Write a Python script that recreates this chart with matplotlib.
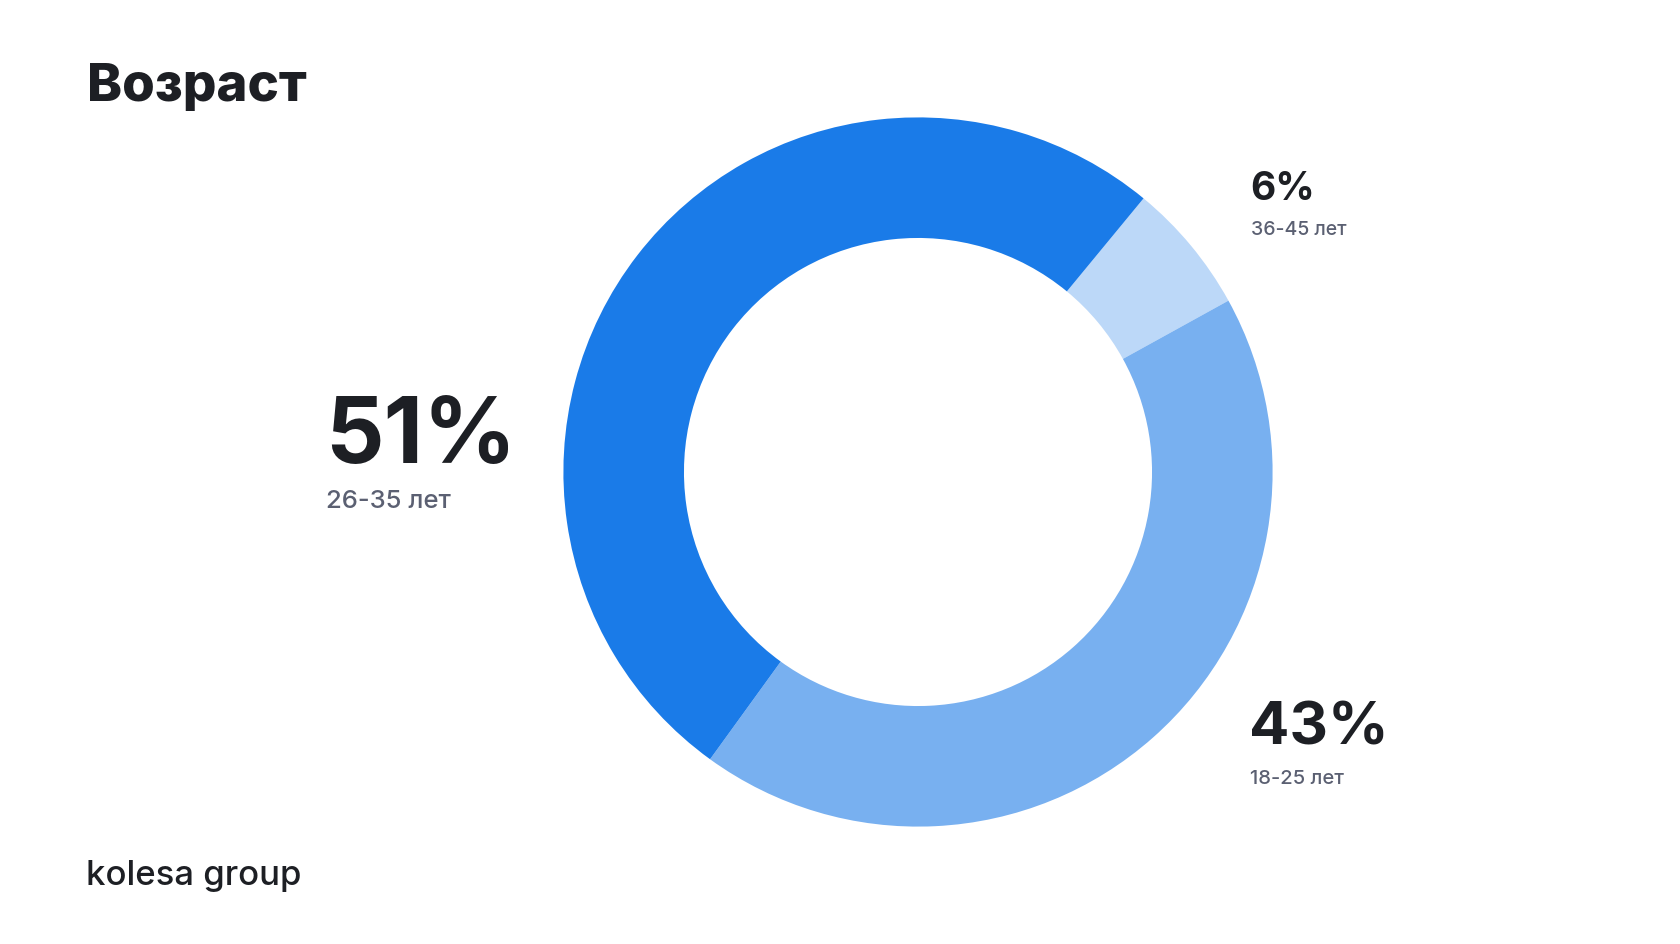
import matplotlib.pyplot as plt

# age groups (clockwise from the top-right)
groups = ["36-45 лет", "18-25 лет", "26-35 лет"]
shares = [6, 43, 51]
colors = ["#bcd8f8", "#78b0f0", "#1a7be8"]

W, H = 1680, 945
fig = plt.figure(figsize=(W / 100, H / 100), dpi=100)
fig.patch.set_facecolor("white")
plt.rcParams["font.family"] = ["Inter", "DejaVu Sans"]

def fx(x):
    return x / W

def fy(y):
    return 1 - y / H

# donut
cx, cy, R = 918, 473, 354.6
ax = fig.add_axes([fx(cx - R), fy(cy + R), 2 * R / W, 2 * R / H])
ax.pie(shares, colors=colors, startangle=50.5, counterclock=False, radius=1,
       wedgeprops=dict(width=0.34, edgecolor="none"))
ax.set_xlim(-1, 1)
ax.set_ylim(-1, 1)
ax.set_aspect("equal")
ax.axis("off")

dark = "#1d1f24"
grey = "#5b6072"

fig.text(fx(87), fy(101), "Возраст", fontsize=38, fontweight="heavy", color=dark, va="baseline")

# labels: (x, big baseline, big size, sub baseline, sub size)
label_pos = [
    (1250, 200, 28, 235, 14),
    (1249, 745, 43, 784, 14.5),
    (325, 463, 66, 508, 18.5),
]
for share, group, (x, yb, fs, ys, fs2) in zip(shares, groups, label_pos):
    fig.text(fx(x), fy(yb), f"{share}%", fontsize=fs, fontweight="bold",
             color=dark, va="baseline")
    fig.text(fx(x + 1), fy(ys), group, fontsize=fs2, fontweight="medium",
             color=grey, va="baseline")

fig.text(fx(86), fy(885), "kolesa group", fontsize=25, fontweight="medium",
         color=dark, va="baseline")

fig.savefig("out.png", dpi=100, facecolor="white")
